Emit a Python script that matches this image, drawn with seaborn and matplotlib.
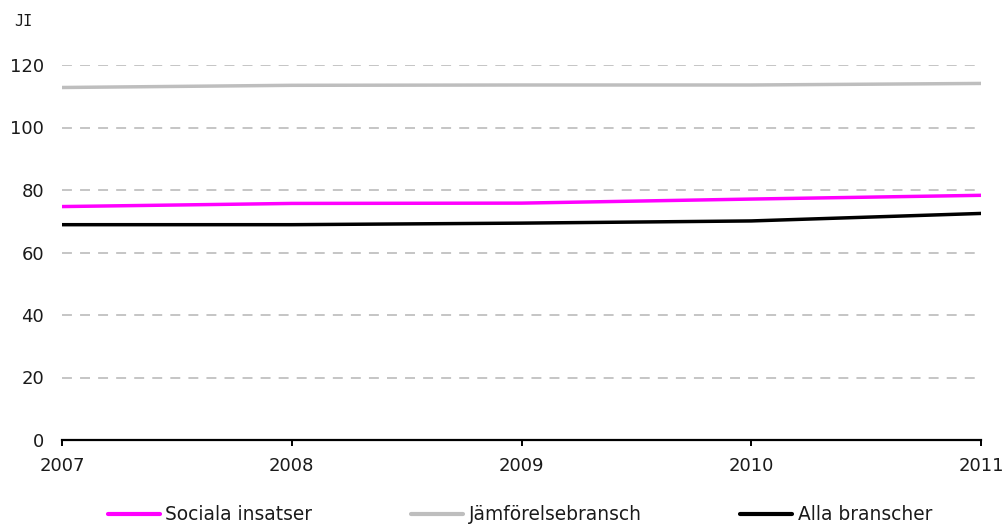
import matplotlib
matplotlib.use("Agg")
import matplotlib.pyplot as plt
import seaborn as sns
import pandas as pd

years = [2007, 2008, 2009, 2010, 2011]
sociala_insatser = [74.7, 75.7, 75.8, 77.1, 78.3]
jamforelsebransch = [112.8, 113.5, 113.6, 113.6, 114.1]
alla_branscher = [68.9, 68.9, 69.4, 70.1, 72.5]

series_names = ["Sociala insatser", "Jämförelsebransch", "Alla branscher"]
series_values = [sociala_insatser, jamforelsebransch, alla_branscher]
colors = ["#ff00ff", "#bebebe", "#000000"]
y_ticks = [0, 20, 40, 60, 80, 100, 120]

rows = []
for name, vals in zip(series_names, series_values):
    for yr, v in zip(years, vals):
        rows.append({"År": yr, "JI": v, "Serie": name})
df = pd.DataFrame(rows)

sns.set_theme(style="white")
plt.rcParams["font.family"] = ["DejaVu Sans"]

fig = plt.figure(figsize=(10.08, 5.25), dpi=100)
ax = fig.add_axes([62 / 1008, 1 - 440 / 525, (981 - 62) / 1008, (440 - 65) / 525])

sns.lineplot(data=df, x="År", y="JI", hue="Serie", hue_order=series_names,
             palette=dict(zip(series_names, colors)), linewidth=2.5,
             ax=ax, legend=False)

ax.set_xlim(years[0], years[-1])
ax.set_ylim(0, 120)
ax.set_xticks(years)
ax.set_xticklabels([str(y) for y in years])
ax.set_yticks(y_ticks)
ax.set_xlabel("")
ax.set_ylabel("")

for y in y_ticks[1:]:
    ax.axhline(y, color="#c0c0c0", linewidth=1.3, dashes=(5.5, 4.5), zorder=0)

for side in ["left", "right", "top"]:
    ax.spines[side].set_visible(False)
ax.spines["bottom"].set_color("black")
ax.spines["bottom"].set_linewidth(1.6)
ax.spines["bottom"].set_zorder(5)

ax.tick_params(axis="x", direction="out", length=4.5, width=1.4, color="black",
               pad=8, labelsize=13, labelcolor="#1a1a1a", bottom=True)
ax.tick_params(axis="y", length=0, pad=13, labelsize=13, labelcolor="#1a1a1a")

fig.text(14 / 1008, 1 - 22 / 525, "JI", fontsize=11, color="#1a1a1a",
         family="DejaVu Sans Mono", ha="left", va="center")

handles = [plt.Line2D([], [], color=c, linewidth=3) for c in colors]
fig.legend(handles, series_names, loc="center", ncol=3,
           bbox_to_anchor=(520 / 1008, 1 - 515 / 525), frameon=False,
           fontsize=13.4, handlelength=2.8, handletextpad=0.3,
           columnspacing=5.3, labelcolor="#1a1a1a")

fig.savefig("out.png", dpi=100)
